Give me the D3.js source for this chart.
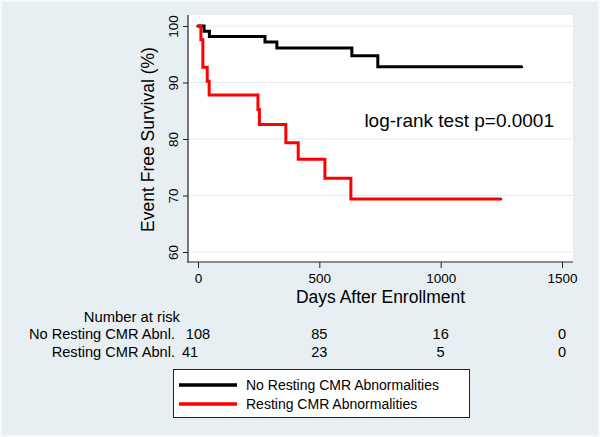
<!DOCTYPE html>
<html>
<head>
<meta charset="utf-8">
<script src="https://cdn.jsdelivr.net/npm/d3@7"></script>
<style>
  html, body { margin: 0; padding: 0; background: #e8eff2; }
  svg { display: block; }
  text { font-family: "Liberation Sans", Arial, Helvetica, sans-serif; fill: #000; }
</style>
</head>
<body>
<svg id="chart" width="600" height="437"></svg>
<script>
// ---- Data ----
const groupNames = ["No Resting CMR Abnormalities", "Resting CMR Abnormalities"];
const groupColors = ["#000000", "#ff0000"];

const noAbnTimes = [0, 25, 47, 276, 325, 634, 741, 1334];
const noAbnSurv  = [100, 99.07, 98.15, 97.15, 96.1, 94.75, 92.8, 92.8];

const abnTimes = [0, 12, 20, 38, 46, 247, 253, 362, 413, 523, 630, 1248];
const abnSurv  = [100, 97.56, 92.68, 90.24, 87.80, 85.2, 82.55, 79.35, 76.4, 73.05, 69.4, 69.4];

const xTicks = [0, 500, 1000, 1500];
const yTicks = [60, 70, 80, 90, 100];

const riskLabels = ["No Resting CMR Abnl.", "Resting CMR Abnl."];
const riskTimes = [0, 500, 1000, 1500];
const riskNoAbn = [108, 85, 16, 0];
const riskAbn   = [41, 23, 5, 0];

const xTitle = "Days After Enrollment";
const yTitle = "Event Free Survival (%)";
const annotation = "log-rank test p=0.0001";

// ---- Layout ----
const W = 600, H = 437;
const plot = { left: 188, right: 573, top: 15, bottom: 262 };

const svg = d3.select("#chart");

// background + thin light frame
svg.append("rect").attr("x", 0).attr("y", 0).attr("width", W).attr("height", H)
  .attr("fill", "#e8eff2");
svg.append("rect").attr("x", 1).attr("y", 1).attr("width", W - 2).attr("height", H - 2)
  .attr("fill", "none").attr("stroke", "#f6f9fa").attr("stroke-width", 2);

// plot region
svg.append("rect")
  .attr("x", plot.left).attr("y", plot.top)
  .attr("width", plot.right - plot.left).attr("height", plot.bottom - plot.top)
  .attr("fill", "#ffffff");

const x = d3.scaleLinear().domain([0, 1500]).range([198, 562]);
const y = d3.scaleLinear().domain([60, 100]).range([252, 26]);

// gridlines
svg.append("g").selectAll("line").data(yTicks).join("line")
  .attr("x1", plot.left).attr("x2", plot.right)
  .attr("y1", d => y(d)).attr("y2", d => y(d))
  .attr("stroke", "#e4ecef").attr("stroke-width", 1);

// axes
const yAxis = d3.axisLeft(y).tickValues(yTicks).tickSize(5).tickSizeOuter(0).tickFormat(d3.format("d"));
const gy = svg.append("g").attr("transform", `translate(${plot.left},0)`).call(yAxis);
gy.select(".domain").remove();
gy.selectAll(".tick line").attr("stroke", "#222");
gy.selectAll(".tick text")
  .attr("transform", "rotate(-90)")
  .attr("x", 0).attr("y", -10).attr("dy", 0)
  .attr("text-anchor", "middle")
  .style("font-size", "13.5px").style("font-family", "Liberation Sans, Arial, sans-serif")
  .attr("fill", "#000");

const xAxis = d3.axisBottom(x).tickValues(xTicks).tickSize(6).tickSizeOuter(0).tickFormat(d3.format("d"));
const gx = svg.append("g").attr("transform", `translate(0,${plot.bottom})`).call(xAxis);
gx.select(".domain").remove();
gx.selectAll(".tick line").attr("stroke", "#222");
gx.selectAll(".tick text")
  .attr("y", 21).attr("dy", 0)
  .style("font-size", "13.5px").style("font-family", "Liberation Sans, Arial, sans-serif")
  .attr("fill", "#000");

// axis lines
svg.append("line").attr("x1", plot.left).attr("x2", plot.left)
  .attr("y1", plot.top).attr("y2", plot.bottom + 0.5).attr("stroke", "#222").attr("stroke-width", 1.2);
svg.append("line").attr("x1", plot.left - 0.5).attr("x2", plot.right)
  .attr("y1", plot.bottom).attr("y2", plot.bottom).attr("stroke", "#222").attr("stroke-width", 1.2);

// axis titles
svg.append("text").attr("x", (plot.left + plot.right) / 2).attr("y", 303)
  .attr("text-anchor", "middle").style("font-size", "17.5px").text(xTitle);
svg.append("text")
  .attr("transform", `translate(154,${(plot.top + plot.bottom) / 2 + 1}) rotate(-90)`)
  .attr("text-anchor", "middle").style("font-size", "17.5px").text(yTitle);

// survival curves
const line = d3.line().x(d => x(d[0])).y(d => y(d[1])).curve(d3.curveStepAfter);
const series = [
  d3.zip(noAbnTimes, noAbnSurv),
  d3.zip(abnTimes, abnSurv)
];
svg.append("g").selectAll("path").data(series).join("path")
  .attr("d", line)
  .attr("fill", "none")
  .attr("stroke", (d, i) => groupColors[i])
  .attr("stroke-width", 3)
  .attr("stroke-linejoin", "miter")
  .attr("stroke-linecap", "round");

// annotation
svg.append("text").attr("x", 554).attr("y", 127).attr("text-anchor", "end")
  .style("font-size", "19px").text(annotation);

// number at risk table
svg.append("text").attr("x", 180).attr("y", 322).attr("text-anchor", "end")
  .style("font-size", "14.8px").text("Number at risk");
const riskRows = [riskNoAbn, riskAbn];
const rowY = [339, 357];
riskRows.forEach((row, r) => {
  svg.append("text").attr("x", 175).attr("y", rowY[r]).attr("text-anchor", "end")
    .style("font-size", "14.6px").text(riskLabels[r]);
  svg.append("g").selectAll("text").data(row).join("text")
    .attr("x", (d, i) => x(riskTimes[i]) + (i === 0 ? (r === 0 ? 0 : -8) : 0))
    .attr("y", rowY[r])
    .attr("text-anchor", "middle")
    .style("font-size", "14.6px")
    .text(d => d);
});

// legend
const lg = svg.append("g");
lg.append("rect").attr("x", 173.5).attr("y", 369.5).attr("width", 296).attr("height", 48)
  .attr("fill", "#ffffff").attr("stroke", "#222").attr("stroke-width", 1);
const legY = [385, 404];
groupNames.forEach((name, i) => {
  lg.append("line").attr("x1", 179).attr("x2", 237).attr("y1", legY[i]).attr("y2", legY[i])
    .attr("stroke", groupColors[i]).attr("stroke-width", 3.5);
  lg.append("text").attr("x", 246).attr("y", legY[i] + 5)
    .style("font-size", "14px").text(name);
});
</script>
</body>
</html>
